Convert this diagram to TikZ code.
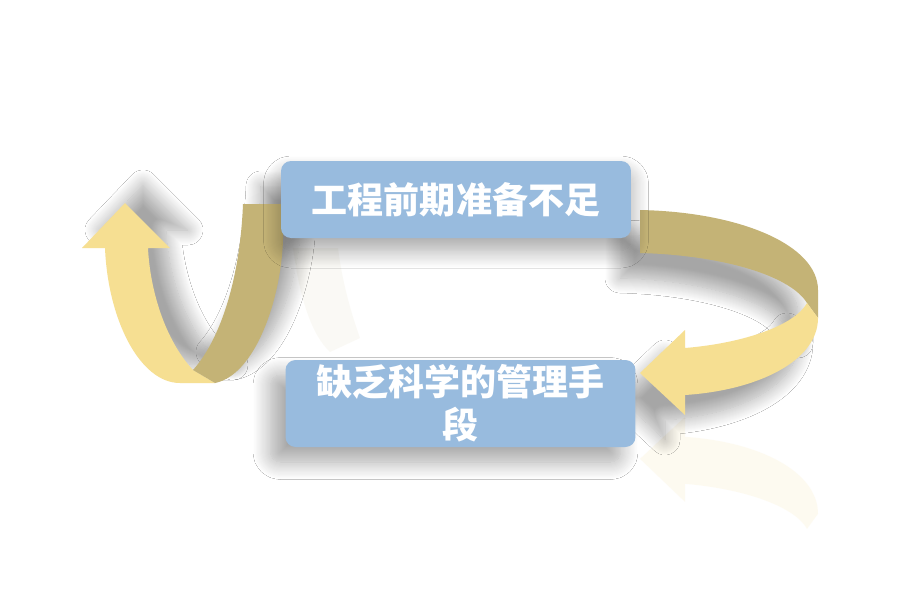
\documentclass[tikz,border=0pt]{standalone}
\usepackage{fontspec}
\newfontfamily\cjk{Noto Sans CJK SC}
\usetikzlibrary{shadows.blur}
\definecolor{boxblue}{RGB}{152,187,222}
\definecolor{ribbonlight}{RGB}{246,223,146}
\definecolor{ribbondark}{RGB}{196,179,118}
% ribbon outlines, in pixels of the 900x600 sheet
\newcommand\leftfront{(105,248) .. controls (108,320) and (140,383) .. (180,383) -- (215,383) -- (193,370) .. controls (165,340) and (150,290) .. (148,248) -- (170,248) -- (125,203) -- (82,248) -- cycle}
\newcommand\leftback{(193,370) -- (215,383) .. controls (255,375) and (281,300) .. (283,240) -- (283,204) -- (243,204) .. controls (240,280) and (220,340) .. (193,370) -- cycle}
\newcommand\rightback{(640,210) .. controls (740,212) and (818,245) .. (818,290) -- (818,318) -- (807,303) .. controls (790,275) and (720,255) .. (640,253) -- cycle}
\newcommand\rightfront{(807,303) -- (818,318) .. controls (818,360) and (760,390) .. (685,395) -- (685,415) -- (640,373) -- (685,330) -- (685,348) .. controls (745,343) and (795,325) .. (807,303) -- cycle}

\begin{document}
\begin{tikzpicture}[x=0.02cm,y=-0.02cm,
  causebox/.style={fill=boxblue,rounded corners=0.2cm,minimum width=7cm,inner sep=0pt,
    text=white,align=center,font=\cjk\bfseries\fontsize{20.5pt}{24.5pt}\selectfont},
  lshadow/.style={blur shadow={shadow xshift=0.36cm,shadow yshift=0.36cm,shadow blur radius=0.3cm,shadow blur steps=16,shadow opacity=35}},
  rshadow/.style={blur shadow={shadow xshift=-0.4cm,shadow yshift=-0.5cm,shadow blur radius=0.3cm,shadow blur steps=16,shadow opacity=35}}]
\useasboundingbox[fill=white] (0,0) rectangle (900,600);

% faint reflections
\fill[ribbondark,opacity=0.07] (293,248) .. controls (300,300) and (312,335) .. (330,352) -- (360,338) .. controls (350,310) and (342,280) .. (338,248) -- cycle;
\begin{scope}[yshift=-16.64cm,yscale=-1]
\fill[ribbonlight,opacity=0.13] \rightfront;
\end{scope}

% shadows first, then the ribbons
\path[lshadow] \leftfront; \path[lshadow] \leftback;
\path[rshadow] \rightback; \path[rshadow] \rightfront;
\fill[ribbonlight] \leftfront;
\fill[ribbondark] \leftback;
\fill[ribbondark] \rightback;
\fill[ribbonlight] \rightfront;

\node[causebox,minimum height=1.54cm,blur shadow={shadow xshift=0cm,shadow yshift=-0.25cm,shadow blur radius=0.35cm,shadow blur steps=16,shadow opacity=35}] (prep) at (456,199.5) {工程前期准备不足};
\node[causebox,minimum height=1.74cm,blur shadow={shadow xshift=-0.3cm,shadow yshift=-0.3cm,shadow blur radius=0.35cm,shadow blur steps=16,shadow opacity=35}] (mgmt) at (460.5,403.5) {缺乏科学的管理手\\段};
\end{tikzpicture}
\end{document}
